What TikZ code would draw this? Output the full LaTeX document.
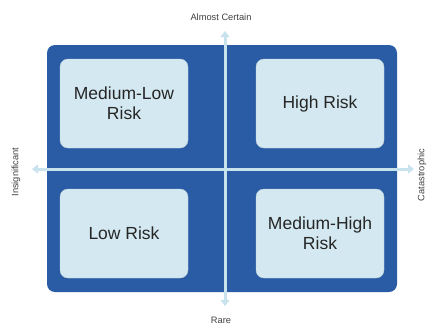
\documentclass[tikz,border=0pt]{standalone}
\usepackage{fontspec}
\setmainfont{Liberation Sans}
\usetikzlibrary{arrows.meta}

\definecolor{gridblue}{HTML}{2A5CA6}
\definecolor{cellblue}{HTML}{D3E8F0}
\definecolor{axisblue}{HTML}{C9E3EE}

\begin{document}
\begin{tikzpicture}[x=1pt,y=-1pt,
    cell/.style={draw=cellblue!80!gray,fill=cellblue,rounded corners=8pt,
        minimum width=128pt,minimum height=89pt,align=center,
        font=\fontsize{17.5}{20}\selectfont,text=black!85},
    axislabel/.style={font=\fontsize{9.3}{11}\selectfont,text=black!75},
    axis/.style={axisblue,line width=3pt,{Triangle[width=9pt,length=6pt]}-{Triangle[width=9pt,length=6pt]}}]
            \useasboundingbox (0,0) rectangle (429,325);
            \node[fill=gridblue,rounded corners=8pt,minimum width=350pt,minimum height=247pt,inner sep=0pt] (Grid) at (222,168.5) {};
            \node[cell] (ML) at (124,103.5) {Medium-Low\\Risk};
            \node[cell] (H) at (320,103.5) {High Risk};
            \node[cell] (L) at (124,233.5) {Low Risk};
            \node[cell] (MH) at (320,233.5) {Medium-High\\Risk};
            \coordinate (Top) at (225,31);
            \coordinate (Bottom) at (225,306);
            \coordinate (Left) at (32,169);
            \coordinate (Right) at (414,169);
            \draw[axis] (Bottom) -- (Top);
            \draw[axis] (Left) -- (Right);
            \node[axislabel] (Certain) at (221,17) {Almost Certain};
            \node[axislabel] (Rare) at (221,320) {Rare};
            \node[axislabel,rotate=90] (Insig) at (16,172) {Insignificant};
            \node[axislabel,rotate=90] (Cat) at (422,175) {Catastrophic};
        \end{tikzpicture}
\end{document}
